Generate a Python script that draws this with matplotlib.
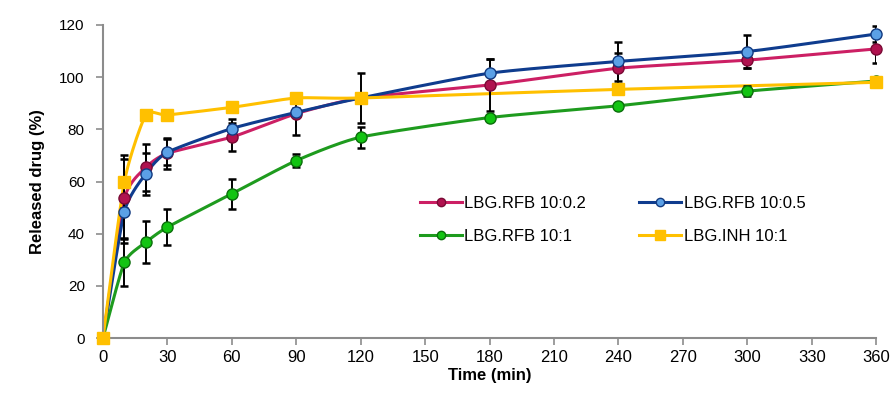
import numpy as np
import matplotlib
matplotlib.use('Agg')
from matplotlib import pyplot as plt

plt.rcParams['font.family'] = ['Liberation Sans', 'DejaVu Sans']

# data
t = [0, 10, 20, 30, 60, 90, 120, 180, 240, 300, 360]
rfb_02 = [0, 53.5, 65.4, 70.8, 77.0, 86.0, 92.0, 97.0, 103.4, 106.5, 110.8]
rfb_02_err = [0, 15, 9, 6, 5.5, 8, 9.5, 10, 6, 3, 5.3]
rfb_05 = [0, 48.5, 63.0, 71.2, 80.3, 86.5, 92.0, 101.5, 106.0, 109.8, 116.5]
rfb_05_err = [0, 12, 8, 5, 3.5, 1.5, 1.5, 5.5, 7.6, 6.5, 3]
rfb_1 = [0, 29.0, 36.7, 42.5, 55.3, 68.0, 77.0, 84.5, 89.0, 94.6, 98.5]
rfb_1_err = [0, 9, 8, 7, 5.8, 2.5, 4, 1, 1, 2, 1.5]
t_inh = [0, 10, 20, 30, 60, 90, 120, 240, 360]
inh = [0, 60.0, 85.5, 85.5, 88.4, 92.0, 92.0, 95.3, 98.0]
inh_err = [0, 10, 0, 0, 0, 0, 0, 0, 0]

labels = ['LBG.RFB 10:0.2', 'LBG.RFB 10:0.5', 'LBG.RFB 10:1', 'LBG.INH 10:1']


def smooth(x, y, n=20):
    # Catmull-Rom curve through the points (like Excel "smoothed line")
    x = np.asarray(x, float)
    y = np.asarray(y, float)
    px = np.concatenate([[2 * x[0] - x[1]], x, [2 * x[-1] - x[-2]]])
    py = np.concatenate([[2 * y[0] - y[1]], y, [2 * y[-1] - y[-2]]])
    xs, ys = [], []
    s = np.linspace(0, 1, n, endpoint=False)
    for i in range(1, len(px) - 2):
        for arr, out in ((px, xs), (py, ys)):
            p0, p1, p2, p3 = arr[i - 1], arr[i], arr[i + 1], arr[i + 2]
            m1 = (p2 - p0) / 2 * 0.6
            m2 = (p3 - p1) / 2 * 0.6
            h00 = 2 * s**3 - 3 * s**2 + 1
            h10 = s**3 - 2 * s**2 + s
            h01 = -2 * s**3 + 3 * s**2
            h11 = s**3 - s**2
            out.extend(h00 * p1 + h10 * m1 + h01 * p2 + h11 * m2)
    xs.append(x[-1])
    ys.append(y[-1])
    return np.array(xs), np.array(ys)


fig = plt.figure(figsize=(8.95, 3.95), dpi=100)
ax = fig.add_axes([0.115, 0.144, 0.864, 0.793])

series = [
    (t, rfb_02, rfb_02_err, '#CC1F64', '#B0124F', '#7A0A35', 'o'),
    (t, rfb_05, rfb_05_err, '#0F3C8E', '#5BA0E6', '#123A80', 'o'),
    (t, rfb_1, rfb_1_err, '#1E9B1E', '#12C412', '#0B6E0B', 'o'),
    (t_inh, inh, inh_err, '#FFC000', '#FFC000', '#FFC000', 's'),
]

handles = []
for i, (x, y, e, lc, fc, ec, mk) in enumerate(series):
    sx, sy = smooth(x, y)
    ax.plot(sx, sy, color=lc, lw=2.2, zorder=2 + i * 0.1, clip_on=False)
    ax.errorbar(x, y, yerr=e, fmt='none', ecolor='black', elinewidth=1.4,
                capsize=3, capthick=1.8, zorder=3)
    ms = 9 if mk == 's' else 8
    ax.plot(x, y, linestyle='none', marker=mk, ms=ms, mfc=fc, mec=ec,
            mew=1.0, zorder=4 + i * 0.1, clip_on=False)
    h, = ax.plot([], [], color=lc, lw=2.2, marker=mk, ms=6 if mk == 'o' else 7,
                 mfc=fc, mec=ec)
    handles.append(h)

ax.set_xlim(0, 360)
ax.set_ylim(0, 120)
ax.set_xticks(range(0, 361, 30))
ax.set_yticks(range(0, 121, 20))
for s in ['top', 'right']:
    ax.spines[s].set_visible(False)
for s in ['left', 'bottom']:
    ax.spines[s].set_color('#8C8C8C')
    ax.spines[s].set_linewidth(1.5)
ax.tick_params(axis='both', colors='#8C8C8C', length=5, width=1.2,
               labelcolor='black', labelsize=11)
ax.tick_params(axis='y', pad=8)
for lab in ax.get_xticklabels():
    lab.set_fontsize(12)

ax.set_xlabel('Time (min)', fontsize=12, fontweight='bold', labelpad=2)
ax.set_ylabel('Released drug (%)', fontsize=12, fontweight='bold', labelpad=10)

# legend fills by column: reorder so rows read 0.2 / 0.5, then 10:1 / INH
order = [0, 2, 1, 3]
ax.legend([handles[k] for k in order], [labels[k] for k in order], ncol=2,
          loc='center left', bbox_to_anchor=(0.41, 0.377), borderaxespad=0,
          borderpad=0, frameon=False, fontsize=12, handlelength=2.5,
          handletextpad=0.15, columnspacing=3.2, labelspacing=1.1)

fig.savefig('out.png', dpi=100)
